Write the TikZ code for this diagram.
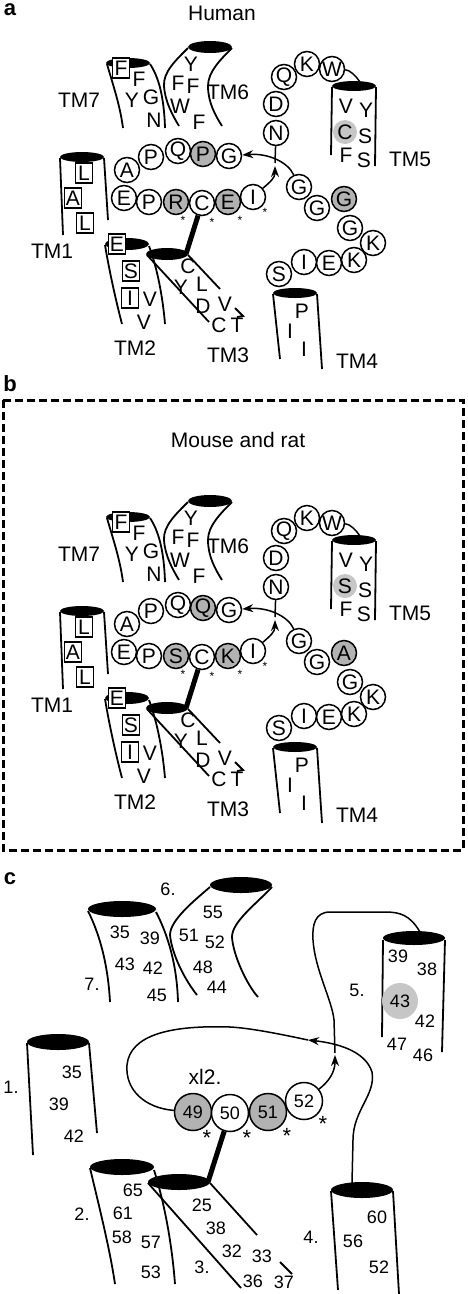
\documentclass[tikz,border=0pt]{standalone}
\usepackage{fontspec}
\setmainfont{Liberation Sans}
\usetikzlibrary{arrows.meta}

\newcommand\resfont{\fontsize{21}{23}\selectfont}
\newcommand\numfont{\fontsize{18}{20}\selectfont}

\tikzset{
  res/.style={circle, draw, line width=1.5pt, minimum size=25pt, inner sep=0pt,
              fill=white, font=\resfont},
  resg/.style={res, fill=gray!60},
  resc/.style={res, minimum size=37pt, font=\numfont},
  rescg/.style={resc, fill=gray!60},
  boxres/.style={draw, line width=1.4pt, minimum width=17pt, minimum height=20pt,
                 inner sep=0pt, fill=white, font=\resfont},
  aa/.style={inner sep=0pt, font=\resfont},
  num/.style={inner sep=0pt, font=\numfont},
  star/.style={inner sep=0pt, font=\fontsize{12}{12}\selectfont},
  bigstar/.style={inner sep=0pt, font=\fontsize{22}{22}\selectfont},
  panlbl/.style={inner sep=0pt, font=\fontsize{22}{24}\selectfont\bfseries},
  helix/.style={line width=1.8pt},
  link/.style={line width=1.5pt},
  bridge/.style={line width=5pt},
  tip/.style={-{Stealth[length=11pt, width=8pt]}},
  dashbox/.style={line width=3pt, dash pattern=on 8pt off 4pt},
}

% one receptor sketch, #1 top loop, #2 #3 lower loop, #4 helix 5, #5 loop 3
\newcommand\helixpanel[5]{%
  % TM7
  \draw[helix] (107,64) .. controls (113,85) and (120,105) .. (123,128);
  \draw[helix] (150,64) .. controls (158,76) and (164,95) .. (165,128);
  \fill (128,63) ellipse [x radius=22pt, y radius=5pt];
  \node[boxres] (s7a) at (121,68) {F};
  \node[aa] (s7b) at (139,79) {F};
  \node[aa] (s7c) at (132,100) {Y};
  \node[aa] (s7d) at (151,97) {G};
  \node[aa] (s7e) at (154,120) {N};
  \node[aa] (tm7) at (79,100) {TM7};
  % TM6
  \draw[helix] (188,48) .. controls (176,60) and (163,72) .. (164,86)
                        .. controls (165,102) and (173,116) .. (179,126);
  \draw[helix] (232,48) .. controls (220,60) and (208,72) .. (208,86)
                        .. controls (208,102) and (215,115) .. (222,126);
  \fill (210,47) ellipse [x radius=22pt, y radius=6pt];
  \node[aa] (s6a) at (191,64) {Y};
  \node[aa] (s6b) at (178,83) {F};
  \node[aa] (s6c) at (193,86) {F};
  \node[aa] (s6d) at (180,106) {W};
  \node[aa] (s6e) at (199,122) {F};
  \node[aa] (tm6) at (228,92) {TM6};
  % TM1
  \draw[helix] (60,158) -- (63,235);
  \draw[helix] (104,158) -- (108,220);
  \fill (82,157) ellipse [x radius=22pt, y radius=5pt];
  \node[boxres] (s1a) at (84,173) {L};
  \node[boxres] (s1b) at (73,198) {A};
  \node[boxres] (s1c) at (85,223) {L};
  \node[aa] (tm1) at (52,251) {TM1};
  % TM2
  \draw[helix] (105,245) .. controls (110,275) and (117,305) .. (122,324);
  \draw[helix] (149,246) .. controls (158,270) and (163,300) .. (165,324);
  \fill (127,244) ellipse [x radius=22pt, y radius=6pt];
  \node[boxres] (s2a) at (117,244) {E};
  \node[boxres] (s2b) at (131,271) {S};
  \node[boxres] (s2c) at (130,298) {I};
  \node[aa] (s2d) at (150,299) {V};
  \node[aa] (s2e) at (144,322) {V};
  \node[aa] (tm2) at (135,348) {TM2};
  % TM3
  \draw[helix] (147,255) -- (209,322);
  \draw[helix] (188,255) -- (220,289);
  \draw[helix] (235,308) -- (243,316) -- (237,317);
  \fill (167,254) ellipse [x radius=21pt, y radius=6pt];
  \coordinate (top3) at (186,254);
  \node[aa] (s3a) at (188,266) {C};
  \node[aa] (s3b) at (181,287) {Y};
  \node[aa] (s3c) at (202,284) {L};
  \node[aa] (s3d) at (203,306) {D};
  \node[aa] (s3e) at (225,304) {V};
  \node[aa] (s3f) at (219,325) {C};
  \node[aa] (s3g) at (237,325) {T};
  \node[aa] (tm3) at (228,355) {TM3};
  % TM4
  \draw[helix] (273,294) -- (280,359);
  \draw[helix] (317,294) -- (322,369);
  \fill (295,293) ellipse [x radius=22pt, y radius=5pt];
  \node[aa] (s4a) at (302,311) {P};
  \node[aa] (s4b) at (290,331) {I};
  \node[aa] (s4c) at (304,349) {I};
  \node[aa] (tm4) at (357,361) {TM4};
  % TM5
  \draw[helix] (332,87) -- (331,155);
  \draw[helix] (376,87) -- (375,166);
  \fill (354,86) ellipse [x radius=22pt, y radius=5pt];
  \coordinate (top5) at (360,82);
  \node[aa] (s5a) at (346,106) {V};
  \node[aa] (s5b) at (366,110) {Y};
  \node[circle, fill=gray!45, minimum size=24pt, inner sep=0pt, font=\resfont] (s5c) at (345,132) {#4};
  \node[aa] (s5d) at (365,136) {S};
  \node[aa] (s5e) at (346,155) {F};
  \node[aa] (s5f) at (364,160) {S};
  \node[aa] (tm5) at (410,159) {TM5};
  % second extracellular loop
  \node[res] (e7) at (127,170) {A};
  \node[res] (e8) at (151,157) {P};
  \node[res] (e9) at (178,151) {Q};
  \node[resg] (e10) at (203,154) {#1};
  \node[res] (e11) at (229,156) {G};
  \node[res] (e1) at (124,198) {E};
  \node[res] (e2) at (149,202) {P};
  \node[resg] (e3) at (176,202) {#2};
  \node[res] (e4) at (202,203) {C};
  \node[resg] (e5) at (228,202) {#3};
  \node[res] (e6) at (253,197) {I};
  \draw[bridge] (e4) -- (top3);
  \node[star] (k1) at (183,220) {*};
  \node[star] (k2) at (212,222) {*};
  \node[star] (k3) at (240,220) {*};
  \node[star] (k4) at (265,212) {*};
  % third extracellular loop
  \node[res] (f1) at (276,133) {N};
  \node[res] (f2) at (276,104) {D};
  \node[res] (f3) at (284,77) {Q};
  \node[res] (f4) at (307,64) {K};
  \node[res] (f5) at (332,69) {W};
  \draw[link] (f5) .. controls (350,70) and (356,76) .. (top5);
  \coordinate (nend) at (275,163);
  \draw[link] (f1) -- (nend);
  % second intracellular side
  \node[res] (g1) at (299,187) {G};
  \node[res] (g2) at (317,208) {G};
  \node[resg] (g3) at (344,199) {#5};
  \node[res] (g4) at (350,228) {G};
  \node[res] (g5) at (373,243) {K};
  \node[res] (g6) at (354,260) {K};
  \node[res] (g7) at (329,263) {E};
  \node[res] (g8) at (304,262) {I};
  \node[res] (g9) at (279,274) {S};
  \draw[link, tip] (g1) .. controls (288,162) and (268,153) .. (e11);
  \draw[link, tip] (e6) .. controls (270,182) and (275,178) .. (275,166);
}

\begin{document}
\begin{tikzpicture}[x=1pt, y=-1pt]
  \useasboundingbox (0,0) rectangle (468,1294);

  % a
  \node[panlbl] (la) at (10,10) {a};
  \node[aa] (human) at (222,13) {Human};
  \helixpanel{P}{R}{E}{C}{G}

  % b
  \node[panlbl] (lb) at (10,384) {b};
  \draw[dashbox] (3,400) rectangle (463,850);
  \node[aa] (mouse) at (238,440) {Mouse and rat};
  \begin{scope}[yshift=-454pt, name prefix=b-]
    \helixpanel{Q}{S}{K}{S}{A}
  \end{scope}

  % c
  \node[panlbl] (lc) at (10,879) {c};
  % helix 7
  \draw[helix] (88,911) .. controls (100,935) and (108,965) .. (110,1002);
  \draw[helix] (156,912) .. controls (168,935) and (177,965) .. (178,1002);
  \fill (122,909) ellipse [x radius=34pt, y radius=8pt];
  \node[num] (n7a) at (120,932) {35};
  \node[num] (n7b) at (150,938) {39};
  \node[num] (n7c) at (125,964) {43};
  \node[num] (n7d) at (153,968) {42};
  \node[num] (n7e) at (157,995) {45};
  \node[num] (h7) at (92,984) {7.};
  % helix 6
  \draw[helix] (210,887) .. controls (195,900) and (170,920) .. (170,935)
                        .. controls (172,955) and (185,980) .. (197,995);
  \draw[helix] (272,887) .. controls (255,905) and (232,922) .. (232,937)
                        .. controls (233,955) and (247,985) .. (258,997);
  \fill (241,885) ellipse [x radius=31pt, y radius=8pt];
  \node[num] (n6a) at (213,912) {55};
  \node[num] (n6b) at (189,935) {51};
  \node[num] (n6c) at (215,942) {52};
  \node[num] (n6d) at (203,967) {48};
  \node[num] (n6e) at (217,987) {44};
  \node[num] (h6) at (168,889) {6.};
  % helix 5
  \draw[helix] (383,940) -- (382,1037);
  \draw[helix] (445,940) -- (442,1052);
  \fill (414,938) ellipse [x radius=31pt, y radius=7pt];
  \coordinate (ctop5) at (420,932);
  \node[num] (n5a) at (398,956) {39};
  \node[num] (n5b) at (427,969) {38};
  \node[circle, fill=gray!45, minimum size=36pt, inner sep=0pt, font=\numfont] (n5c) at (400,1001) {43};
  \node[num] (n5d) at (425,1021) {42};
  \node[num] (n5e) at (397,1044) {47};
  \node[num] (n5f) at (423,1055) {46};
  \node[num] (h5) at (357,990) {5.};
  % helix 1
  \draw[helix] (27,1043) -- (33,1155);
  \draw[helix] (89,1043) -- (97,1133);
  \fill (58,1042) ellipse [x radius=31pt, y radius=8pt];
  \node[num] (n1a) at (72,1072) {35};
  \node[num] (n1b) at (59,1104) {39};
  \node[num] (n1c) at (74,1136) {42};
  \node[num] (h1) at (11,1087) {1.};
  % helix 2
  \draw[helix] (90,1168) .. controls (100,1210) and (110,1250) .. (115,1284);
  \draw[helix] (154,1170) .. controls (165,1205) and (172,1245) .. (175,1284);
  \fill (122,1167) ellipse [x radius=32pt, y radius=8pt];
  \node[num] (n2a) at (133,1190) {65};
  \node[num] (n2b) at (123,1213) {61};
  \node[num] (n2c) at (122,1237) {58};
  \node[num] (n2d) at (151,1242) {57};
  \node[num] (n2e) at (151,1272) {53};
  \node[num] (h2) at (82,1214) {2.};
  % helix 3
  \draw[helix] (148,1183) -- (241,1288);
  \draw[helix] (210,1183) -- (257,1235);
  \draw[helix] (280,1262) -- (292,1274);
  \fill (179,1182) ellipse [x radius=31pt, y radius=8pt];
  \coordinate (ctop3) at (208,1182);
  \node[num] (n3a) at (202,1205) {25};
  \node[num] (n3b) at (216,1228) {38};
  \node[num] (n3c) at (232,1251) {32};
  \node[num] (n3d) at (262,1256) {33};
  \node[num] (n3e) at (253,1281) {36};
  \node[num] (n3f) at (284,1282) {37};
  \node[num] (h3) at (202,1267) {3.};
  % helix 4
  \draw[helix] (331,1191) -- (338,1290);
  \draw[helix] (393,1191) -- (399,1294);
  \fill (362,1190) ellipse [x radius=31pt, y radius=8pt];
  \coordinate (ctop4) at (352,1183);
  \node[num] (n4a) at (377,1217) {60};
  \node[num] (n4b) at (353,1241) {56};
  \node[num] (n4c) at (379,1267) {52};
  \node[num] (h4) at (311,1237) {4.};
  % xl2
  \node[aa] (xl) at (205,1077) {xl2.};
  \node[rescg] (x49) at (193,1112) {49};
  \node[resc] (x50) at (230,1113) {50};
  \node[rescg] (x51) at (268,1112) {51};
  \node[resc] (x52) at (304,1101) {52};
  \draw[bridge] (x50) -- (ctop3);
  \node[bigstar] (q1) at (207,1138) {*};
  \node[bigstar] (q2) at (247,1138) {*};
  \node[bigstar] (q3) at (287,1136) {*};
  \node[bigstar] (q4) at (323,1124) {*};
  \coordinate (mid) at (308,1040);
  \draw[link, tip] (ctop4) -- (353,1140) .. controls (353,1110) and (376,1095) .. (372,1072)
                   .. controls (365,1050) and (335,1043) .. (mid);
  \draw[link] (mid) .. controls (280,1034) and (250,1028) .. (230,1027)
              .. controls (170,1025) and (130,1035) .. (127,1065)
              .. controls (125,1090) and (145,1108) .. (x49);
  \coordinate (stem) at (335,1053);
  \draw[link] (ctop5) .. controls (410,915) and (400,912) .. (385,912) -- (330,912)
              .. controls (315,912) and (312,925) .. (313,940)
              .. controls (315,970) and (332,1000) .. (334,1020) -- (stem);
  \draw[link, tip] (x52) .. controls (328,1082) and (335,1073) .. (335,1055);
\end{tikzpicture}
\end{document}
